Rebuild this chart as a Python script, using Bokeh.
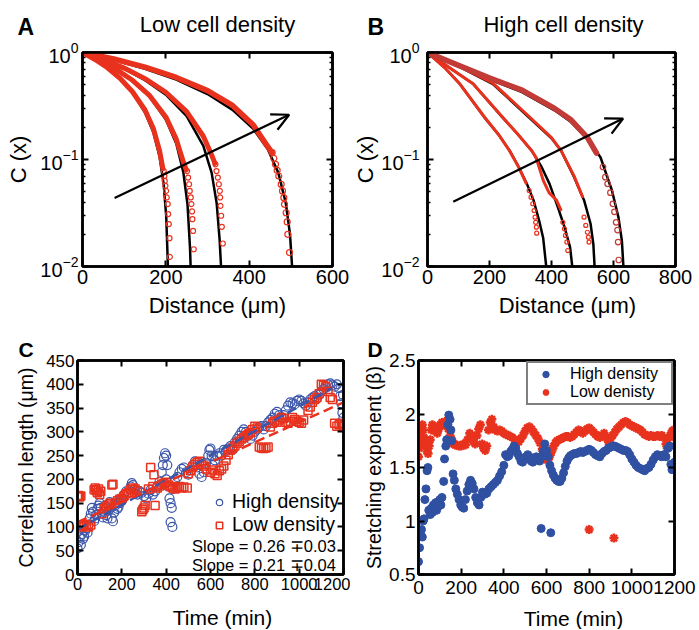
from bokeh.plotting import figure
from bokeh.models import (Range1d, FixedTicker, LogAxis, LinearAxis, LogTickFormatter,
                          NumeralTickFormatter, CustomJSTickFormatter, Label, Arrow, OpenHead,
                          Legend, LegendItem, Title)
from bokeh.layouts import column, row
from bokeh.embed import file_html
from bokeh.resources import INLINE

FONT = "Liberation Sans"
RED = "#e8321e"
DARKRED = "#c23b36"
BLUE_C = "#3b55a8"
BLUE_D = "#3050a2"

# ---------------- shared log-axis ticks (panels A, B) ----------------
log_ticks = [0.01, 0.1, 1]
log_minor = [0.02, 0.03, 0.04, 0.05, 0.06, 0.07, 0.08, 0.09,
             0.2, 0.3, 0.4, 0.5, 0.6, 0.7, 0.8, 0.9]

# ---------------- Panel A: low cell density ----------------
a_xticks = [0, 200, 400, 600]
a_fit_x = [
    [0, 30, 60, 90, 120, 150, 170, 185, 195, 201, 205],
    [0, 40, 80, 120, 160, 200, 225, 242, 252, 258, 259.5],
    [0, 50, 100, 150, 200, 250, 290, 310, 322, 329, 332.5],
    [0, 75, 150, 225, 300, 360, 410, 445, 470, 488, 498, 503],
]
a_fit_c = [
    [1, 0.855, 0.71, 0.565, 0.42, 0.275, 0.18, 0.106, 0.058, 0.029, 0.01],
    [1, 0.847, 0.695, 0.542, 0.389, 0.237, 0.141, 0.076, 0.038, 0.015, 0.01],
    [1, 0.851, 0.701, 0.552, 0.403, 0.254, 0.134, 0.075, 0.039, 0.018, 0.01],
    [1, 0.852, 0.705, 0.557, 0.409, 0.291, 0.193, 0.124, 0.075, 0.039, 0.02, 0.01],
]
a_band_x = [
    [0, 30, 60, 90, 120, 150, 170, 185, 193],
    [0, 40, 80, 120, 160, 200, 225, 242, 249],
    [0, 50, 100, 150, 200, 250, 290, 310, 318],
    [0, 75, 150, 225, 300, 360, 410, 440, 455],
]
a_band_c = [
    [1, 0.86, 0.72, 0.575, 0.43, 0.29, 0.195, 0.12, 0.082],
    [1, 0.85, 0.70, 0.55, 0.40, 0.25, 0.155, 0.095, 0.08],
    [1, 0.86, 0.715, 0.57, 0.425, 0.28, 0.165, 0.11, 0.092],
    [1, 0.87, 0.73, 0.585, 0.44, 0.32, 0.21, 0.14, 0.116],
]
a_tail_x = [
    [195, 196.6, 197.4, 199, 200.6, 202.2, 204.6, 205.6, 207.2, 208.8, 209.6],
    [251, 253.4, 255.8, 257.4, 259.8, 261.4, 263, 263.8, 265.4, 267],
    [319.2, 321.6, 324.8, 327.2, 329.6, 330.4, 331.2, 332.8, 334.4, 336.8],
    [455.2, 459.2, 463.2, 467.2, 471.1, 476.8, 480, 483.2, 484.8, 488.8, 491.2, 492.8, 496.8],
]
a_tail_c = [
    [0.078, 0.0703, 0.0631, 0.0568, 0.0509, 0.0442, 0.0383, 0.0309, 0.0249, 0.0184, 0.0123],
    [0.078, 0.0678, 0.0587, 0.0509, 0.0442, 0.0383, 0.0327, 0.0277, 0.0215, 0.0145],
    [0.0902, 0.078, 0.0678, 0.0587, 0.0509, 0.0442, 0.0369, 0.0298, 0.0235, 0.0164],
    [0.116, 0.1026, 0.0902, 0.0793, 0.0701, 0.0586, 0.0508, 0.044, 0.0381, 0.0318, 0.0261, 0.02, 0.0135],
]
a_arrow = [77, 0.0437, 496, 0.262]

# ---------------- Panel B: high cell density ----------------
b_xticks = [0, 200, 400, 600, 800]
b_fit_x = [
    [0, 55, 104, 183, 230, 265, 294, 321, 342, 360, 373, 383],
    [0, 70, 147, 241, 290, 336, 368, 394, 421, 442, 460, 467],
    [0, 100, 210, 326, 400, 431, 473, 505, 526, 535, 539],
    [0, 94, 199, 305, 410, 463, 516, 558, 595, 616, 627, 632],
]
b_fit_c = [
    [1, 0.724, 0.51, 0.249, 0.17, 0.121, 0.0851, 0.0589, 0.0417, 0.0269, 0.0186, 0.01],
    [1, 0.724, 0.51, 0.249, 0.174, 0.121, 0.0851, 0.0589, 0.0355, 0.0234, 0.0151, 0.01],
    [1, 0.741, 0.51, 0.249, 0.158, 0.121, 0.0684, 0.0417, 0.0251, 0.0162, 0.01],
    [1, 0.759, 0.562, 0.427, 0.288, 0.224, 0.155, 0.105, 0.0513, 0.0288, 0.0174, 0.01],
]
b_band_x = [
    [0, 55, 104, 183, 230, 265, 294, 318],
    [0, 70, 147, 241, 290, 336, 350, 374, 392, 416, 430],
    [0, 100, 210, 326, 400, 431, 473, 500],
    [0, 94, 199, 305, 410, 463, 516, 545],
]
b_band_c = [
    [1, 0.724, 0.51, 0.251, 0.17, 0.12, 0.085, 0.06],
    [1, 0.724, 0.51, 0.251, 0.174, 0.121, 0.105, 0.063, 0.049, 0.0417, 0.034],
    [1, 0.75, 0.52, 0.255, 0.16, 0.121, 0.07, 0.045],
    [1, 0.77, 0.58, 0.445, 0.30, 0.235, 0.16, 0.115],
]
b_tail_x = [
    [328, 334, 339.6, 343.8, 347, 349, 351.2, 352.2],
    [436.6, 441.8, 445, 449.4, 452.5],
    [505, 510.5, 515.8, 519, 521],
    [566, 573.7, 581, 590, 598, 603, 608.5, 613, 614.9, 617],
]
b_tail_c = [
    [0.0513, 0.0445, 0.0386, 0.0333, 0.0289, 0.0259, 0.0233, 0.0205],
    [0.0259, 0.0225, 0.0195, 0.0169, 0.0141],
    [0.0289, 0.0242, 0.0209, 0.0188, 0.0169],
    [0.0851, 0.0684, 0.0593, 0.049, 0.0385, 0.0324, 0.0259, 0.0219, 0.0169, 0.0115],
]
b_arrow = [83, 0.0402, 631, 0.2415]

# ---------------- Panel C: correlation length vs time ----------------
c_xticks = [0, 200, 400, 600, 800, 1000, 1200]
c_yticks = [0, 50, 100, 150, 200, 250, 300, 350, 400, 450]
hi_t = [0, 5, 10, 15, 20, 25, 30, 35, 40, 45, 50, 55, 60, 65, 70, 75, 80, 85, 90, 95, 100,
        105, 110, 115, 120, 125, 130, 135, 140, 145, 150, 155, 160, 165, 170, 175, 180, 185, 190, 195, 200,
        205, 210, 220, 230, 240, 245, 250, 255, 260, 270, 280, 290, 300, 310, 320, 330, 340, 350, 360,
        370, 380, 385, 390, 395, 400, 405, 400, 410, 415, 420, 425, 420, 428, 430, 440,
        450, 460, 470, 480, 490, 500, 510, 520, 530, 540, 550, 560, 570,
        580, 590, 595, 600, 605, 610, 620, 630, 640, 650, 660, 670, 680, 690, 700,
        710, 720, 730, 740, 750, 760, 770, 780, 790, 800, 810, 820, 830, 840, 850,
        860, 870, 880, 890, 900, 910, 920, 930, 940, 950, 960, 970, 980, 990, 1000,
        1010, 1020, 1030, 1040, 1050, 1060, 1070, 1080, 1090, 1100, 1110, 1120, 1130, 1140, 1150,
        1160, 1170, 1180, 1185, 1190, 1195, 1198, 1200]
hi_len = [55, 68, 78, 62, 85, 75, 80, 92, 97, 88, 105, 118, 128, 140, 132, 112, 118, 125, 138, 145, 150,
          140, 128, 120, 132, 145, 125, 118, 135, 152, 140, 118, 112, 130, 145, 150, 138, 142, 150, 158, 155,
          160, 168, 175, 172, 185, 192, 188, 178, 170, 168, 175, 172, 165, 160, 170, 178, 168, 175, 185,
          195, 215, 230, 245, 255, 250, 230, 200, 185, 160, 150, 140, 110, 100, 180, 195,
          205, 215, 222, 225, 215, 210, 220, 230, 238, 225, 212, 205, 215,
          235, 250, 262, 265, 250, 230, 240, 250, 255, 250, 262, 260, 265, 270, 262,
          278, 285, 292, 300, 305, 300, 292, 285, 292, 300, 305, 310, 312, 305, 312,
          320, 325, 330, 338, 342, 335, 330, 335, 345, 355, 362, 360, 358, 365, 368,
          365, 360, 355, 362, 368, 372, 375, 370, 378, 385, 390, 395, 400, 402, 398,
          395, 400, 392, 375, 360, 340, 378, 330]
lo_t = [0, 5, 10, 15, 20, 25, 30, 40, 50, 60,
        75, 80, 85, 90, 95, 100, 105,
        110, 120, 130, 140, 150, 155, 160, 170, 180, 190, 200, 210, 220, 230, 240, 250, 260, 270,
        290, 295, 300, 305,
        320, 330, 345, 340, 350, 360, 370, 380, 390, 400, 410, 420, 430, 440, 450, 460, 470, 480, 495,
        500, 510, 520, 530, 540, 550, 560, 570, 580, 600, 610, 620, 630, 640, 650, 660, 670, 680,
        690, 700, 710, 720, 730, 740, 750, 760, 770, 780, 790, 800, 810,
        820, 830, 840, 850, 860,
        870, 880, 890, 900, 910, 920, 930, 940, 950, 960, 970, 980, 990, 1000, 1010, 1020,
        1040, 1050, 1060, 1070, 1080, 1090, 1100, 1110, 1120, 1130, 1140, 1150,
        1160, 1170, 1180, 1190, 1200]
lo_len = [165, 166, 163, 165, 100, 104, 102, 105, 100, 104,
          178, 182, 176, 172, 180, 168, 175,
          128, 138, 142, 146, 150, 188, 190, 150, 155, 158, 160, 165, 170, 172, 178, 182, 180, 176,
          132, 136, 140, 145,
          180, 225, 210, 185, 145, 182, 186, 190, 192, 194, 188, 185, 182, 180, 183, 185, 182, 184, 182,
          212, 218, 226, 232, 236, 238, 232, 228, 222, 215, 220, 212, 208, 218, 222, 228, 240, 252,
          262, 266, 270, 276, 280, 285, 288, 292, 295, 298, 305, 312, 308,
          268, 266, 265, 266, 268,
          310, 318, 322, 320, 325, 330, 328, 320, 318, 322, 330, 326, 322, 320, 318, 325,
          345, 352, 362, 368, 372, 380, 400, 398, 395, 385, 372, 368,
          318, 312, 315, 318, 312]
fit_hi_t = [0, 1150]
fit_hi_len = [95, 392]
fit_lo_t = [0, 1200]
fit_lo_len = [110, 362]

# ---------------- Panel D: stretching exponent vs time ----------------
d_xticks = [0, 200, 400, 600, 800, 1000, 1200]
d_yticks = [0.5, 1, 1.5, 2, 2.5]
bh_t = [0, 5, 10, 14, 18, 22, 26, 30, 35, 40, 44, 48, 55, 60, 65, 70, 75, 80, 85, 90, 95, 100, 105, 110,
        118, 122, 128, 132, 138, 142, 148, 152, 156,
        162, 168, 175, 182, 190, 198, 205, 212, 220, 228, 236, 244, 252, 260, 268, 276, 284, 292, 300,
        310, 320, 330, 340, 350, 360, 370, 380, 390, 400, 408, 416, 424, 432, 440, 448, 456, 464, 472,
        480, 488, 496, 504, 512, 520, 528, 536, 544, 552, 560, 568, 576, 584, 592, 600, 608, 616, 624,
        632, 640, 648, 656, 664, 672, 680, 688, 696, 704, 712, 720, 730, 740, 750, 760, 770, 780, 790,
        800, 810, 820, 830, 840, 850, 860, 870, 880, 890, 900, 910, 920, 930, 940, 950, 960, 970, 980,
        990, 1000, 1010, 1020, 1030, 1040, 1050, 1060, 1070, 1080, 1090, 1100, 1110, 1120, 1130, 1140,
        1150, 1160, 1170, 1178, 1183, 1188, 1193, 1200, 575, 620]
bh_beta = [0.62, 0.75, 0.87, 0.92, 0.85, 1.0, 1.02, 1.2, 1.3, 1.47, 1.5, 1.1, 1.06, 1.12, 1.08, 1.15, 1.12,
           1.17, 1.1, 1.18, 1.14, 1.2, 1.15, 1.22,
           1.37, 1.58, 1.7, 1.76, 1.9, 1.99, 1.95, 1.85, 1.75,
           1.44, 1.38, 1.3, 1.25, 1.2, 1.15, 1.13, 1.12, 1.2, 1.28, 1.34, 1.38, 1.35, 1.3, 1.22, 1.17, 1.15,
           1.22, 1.27,
           1.25, 1.26, 1.3, 1.32, 1.34, 1.36, 1.38, 1.42, 1.46, 1.52, 1.62, 1.6, 1.61, 1.65, 1.67, 1.7, 1.68,
           1.63, 1.6,
           1.56, 1.55, 1.58, 1.6, 1.62, 1.6, 1.56, 1.55, 1.58, 1.6, 1.57, 1.56, 1.6, 1.65, 1.72, 1.66, 1.6,
           1.52, 1.47,
           1.43, 1.4, 1.38, 1.37, 1.37, 1.4, 1.45, 1.51, 1.56, 1.59, 1.61, 1.62, 1.63, 1.63, 1.64, 1.65, 1.64,
           1.65, 1.66,
           1.67, 1.66, 1.64, 1.62, 1.61, 1.6, 1.63, 1.65, 1.66, 1.68, 1.69, 1.7, 1.7, 1.69, 1.68, 1.67, 1.66,
           1.66, 1.65,
           1.62, 1.58, 1.55, 1.52, 1.5, 1.49, 1.48, 1.47, 1.49, 1.5, 1.53, 1.57, 1.6, 1.62, 1.61, 1.6,
           1.62, 1.6, 1.68, 1.7, 1.53, 1.48, 1.5, 1.55, 0.93, 0.89]
bl_t = [0, 3, 6, 10, 14, 18, 22, 26, 30, 35, 40, 45, 50, 55, 60, 65, 72, 80, 88, 95, 102, 110, 118, 125,
        132, 140, 148, 156, 164, 172, 180, 190, 200, 210, 220, 230, 240, 250, 258, 266, 274, 282, 290,
        298, 305, 313, 320, 328, 336, 344, 352, 360, 370, 380, 390, 400, 410, 420, 430, 440, 450, 460,
        470, 480, 490, 500, 510, 520, 530, 540, 550, 560, 570, 580, 590, 600, 610, 618, 626, 634, 642,
        650, 660, 670, 680, 690, 700, 710, 720, 730, 740, 750, 760, 770, 780, 790, 800, 810, 820, 830,
        840, 850, 860, 870, 880, 890, 900, 910, 920, 930, 940, 950, 960, 970, 980, 990, 1000, 1010,
        1020, 1030, 1040, 1050, 1060, 1070, 1080, 1090, 1100, 1110, 1120, 1130, 1140, 1150, 1160, 1166,
        1172, 1178, 1184, 1190, 1196, 1200, 800, 916]
bl_beta = [1.6, 1.68, 1.75, 1.8, 1.86, 1.9, 1.85, 1.78, 1.72, 1.7, 1.65, 1.63, 1.7, 1.76, 1.85, 1.9, 1.88,
           1.84, 1.82, 1.86, 1.9, 1.92, 1.9, 1.93,
           1.9, 1.86, 1.8, 1.76, 1.72, 1.71, 1.71, 1.7, 1.7, 1.72, 1.71, 1.76, 1.82, 1.8, 1.74, 1.72, 1.8,
           1.86, 1.9,
           1.72, 1.68, 1.66, 1.7, 1.85, 1.92, 1.95, 1.88, 1.85, 1.84, 1.85, 1.84, 1.82, 1.81, 1.8, 1.79,
           1.78, 1.76, 1.74,
           1.74, 1.77, 1.8, 1.84, 1.87, 1.88, 1.86, 1.83, 1.8, 1.77, 1.73, 1.67, 1.62, 1.57, 1.58, 1.62,
           1.66, 1.7, 1.73,
           1.75, 1.76, 1.77, 1.78, 1.79, 1.79, 1.78, 1.79, 1.81, 1.83, 1.85, 1.84, 1.82, 1.84, 1.86, 1.87,
           1.85, 1.83, 1.81,
           1.79, 1.78, 1.8, 1.82, 1.78, 1.74, 1.77, 1.8, 1.83, 1.86, 1.88, 1.9, 1.92, 1.93, 1.92, 1.9,
           1.89, 1.88,
           1.87, 1.86, 1.85, 1.83, 1.81, 1.8, 1.79, 1.8, 1.79, 1.79, 1.8, 1.79, 1.8, 1.78, 1.72, 1.68,
           1.7, 1.78, 1.82, 1.84, 1.85, 1.82, 0.92, 0.84]

BLANK = "return ''"
PAGE_W = 699


def style_axes(p, minor_log=False):
    for ax in p.axis:
        ax.axis_line_width = 2.5
        ax.axis_line_color = "black"
        ax.major_tick_in = 6
        ax.major_tick_out = 0
        ax.major_tick_line_width = 2
        ax.major_tick_line_color = "black"
        ax.minor_tick_out = 0
        ax.minor_tick_in = 3
        ax.minor_tick_line_width = 1.5
        ax.major_label_text_font = FONT
        ax.major_label_text_color = "black"
        ax.axis_label_text_font = FONT
        ax.axis_label_text_font_style = "normal"
        ax.axis_label_text_color = "black"
    for ax in p.xaxis:
        ax.minor_tick_line_color = None
    if not minor_log:
        for ax in p.yaxis:
            ax.minor_tick_line_color = None


def add_mirror_axes(p, xticks, yticks, log=False, yminor=None):
    top = LinearAxis(ticker=FixedTicker(ticks=xticks), formatter=CustomJSTickFormatter(code=BLANK))
    if log:
        right = LogAxis(ticker=FixedTicker(ticks=yticks, minor_ticks=yminor),
                        formatter=CustomJSTickFormatter(code=BLANK))
    else:
        right = LinearAxis(ticker=FixedTicker(ticks=yticks), formatter=CustomJSTickFormatter(code=BLANK))
    for ax in (top, right):
        ax.major_label_text_font_size = "2px"
        ax.major_label_standoff = 0
    p.add_layout(top, "above")
    p.add_layout(right, "right")


def base_fig(w, h, xr, yr, borders, log=False):
    kw = dict(width=w, height=h, x_range=xr, y_range=yr, output_backend="svg",
              toolbar_location=None, min_border_left=borders[0], min_border_right=borders[1],
              min_border_top=borders[2], min_border_bottom=borders[3])
    if log:
        kw["y_axis_type"] = "log"
    p = figure(**kw)
    p.grid.visible = False
    p.outline_line_color = "black"
    p.outline_line_width = 2.5
    p.background_fill_color = "white"
    p.border_fill_color = "white"
    return p


def text_strip(h, texts):
    """A full-width strip whose frame is the whole canvas (x, y in page pixels within the strip)."""
    s = figure(width=PAGE_W, height=h, x_range=Range1d(0, PAGE_W), y_range=Range1d(h, 0),
               output_backend="svg", toolbar_location=None, min_border=0,
               x_axis_location=None, y_axis_location=None)
    s.grid.visible = False
    s.outline_line_color = None
    s.background_fill_color = "white"
    s.border_fill_color = "white"
    for (x, y, txt, size, bold, align) in texts:
        s.add_layout(Label(x=x, y=y, text=txt, text_font=FONT, text_font_size=size,
                           text_font_style="bold" if bold else "normal", text_align=align,
                           text_baseline="middle", text_color="black"))
    return s


def panel_letter(p, letter, offset):
    p.add_layout(Title(text=letter, align="left", offset=offset, standoff=0, text_font=FONT,
                       text_font_size="21px", text_font_style="bold", text_color="black",
                       vertical_align="bottom"), "above")


def curve_panel(w, borders, xmax, xticks, fit_x, fit_c, band_x, band_c, band_colors, band_widths,
                tail_x, tail_c, tail_sizes, arrow, ylabel_standoff, ytick_standoff):
    p = base_fig(w, 252, Range1d(0, xmax), Range1d(0.01, 1), borders, log=True)
    p.xaxis.ticker = FixedTicker(ticks=xticks)
    p.yaxis.ticker = FixedTicker(ticks=log_ticks, minor_ticks=log_minor)
    p.yaxis.formatter = LogTickFormatter()
    p.yaxis.axis_label = "C (x)"
    p.yaxis.axis_label_text_font_size = "22px"
    p.yaxis.axis_label_standoff = ylabel_standoff
    p.yaxis.major_label_standoff = ytick_standoff
    p.xaxis.major_label_standoff = 3
    p.xaxis.major_label_text_font_size = "20px"
    p.yaxis.major_label_text_font_size = "20px"
    add_mirror_axes(p, xticks, log_ticks, log=True, yminor=log_minor)
    style_axes(p, minor_log=True)
    for x, c in zip(fit_x, fit_c):
        p.line(x, c, line_color="black", line_width=2.5)
    for x, c, col, lw in zip(band_x, band_c, band_colors, band_widths):
        p.line(x, c, line_color=col, line_width=lw, line_cap="round", line_join="round")
    for x, c, col, s in zip(tail_x, tail_c, band_colors, tail_sizes):
        p.scatter(x, c, marker="circle", size=s, fill_color=None, line_color=col, line_width=1.2)
    p.add_layout(Arrow(end=OpenHead(size=17, line_width=2.2, line_color="black"),
                       x_start=arrow[0], y_start=arrow[1], x_end=arrow[2], y_end=arrow[3],
                       line_width=2.2, line_color="black"))
    return p


# page layout (Bokeh's page template has no body margin):
# header 0-40 | top row 40-292 | middle strip 292-330 | bottom row 330-607 | footer 607-629
header = text_strip(40, [
    (17, 26, "A", "23px", True, "left"),
    (217, 24, "Low cell density", "22px", False, "center"),
    (367, 26, "B", "23px", True, "left"),
    (563, 24, "High cell density", "22px", False, "center"),
])

pA = curve_panel(350, (82, 18, 12, 26), 600, a_xticks, a_fit_x, a_fit_c, a_band_x, a_band_c,
                 [RED, RED, RED, RED], [5, 5, 5, 5.5], a_tail_x, a_tail_c, [5, 5, 5, 6],
                 a_arrow, 6, 4)
pB = curve_panel(349, (72, 24, 12, 26), 800, b_xticks, b_fit_x, b_fit_c, b_band_x, b_band_c,
                 [RED, RED, RED, DARKRED], [3, 3, 3, 5.5], b_tail_x, b_tail_c, [4, 4, 4, 5.5],
                 b_arrow, 0, 8)

middle = text_strip(38, [
    (217, 13, "Distance (μm)", "22px", False, "center"),
    (567, 13, "Distance (μm)", "22px", False, "center"),
])

# ---------------- Panel C ----------------
pC = base_fig(350, 277, Range1d(0, 1200), Range1d(0, 450), (77, 7, 26, 33))
pC.xaxis.ticker = FixedTicker(ticks=c_xticks)
pC.yaxis.ticker = FixedTicker(ticks=c_yticks)
pC.yaxis.axis_label = "Correlation length (μm)"
pC.yaxis.axis_label_text_font_size = "19.5px"
pC.yaxis.axis_label_standoff = 6
pC.yaxis.major_label_standoff = 3
pC.xaxis.major_label_standoff = 3
pC.xaxis.major_label_text_font_size = "16.5px"
pC.yaxis.major_label_text_font_size = "17px"
add_mirror_axes(pC, c_xticks, c_yticks)
style_axes(pC)
panel_letter(pC, "C", -59)
r_hi = pC.scatter(hi_t, hi_len, marker="circle", size=9, fill_color=None, line_color=BLUE_C, line_width=1.2)
r_lo = pC.scatter(lo_t, lo_len, marker="square", size=8, fill_color=None, line_color=RED, line_width=1.5)
pC.line(fit_hi_t, fit_hi_len, line_color=BLUE_C, line_width=2.5, line_dash="10 5")
pC.line(fit_lo_t, fit_lo_len, line_color=RED, line_width=2.5, line_dash="10 5")
leg_hi_line = pC.line([], [], line_color=BLUE_C, line_width=2.5)
leg_lo_line = pC.line([], [], line_color=RED, line_width=2.5)
legC1 = Legend(items=[LegendItem(label="High density", renderers=[r_hi]),
                      LegendItem(label="Low density", renderers=[r_lo])],
               location=(134, 38), padding=0, margin=0, spacing=0, glyph_width=16, glyph_height=18,
               label_height=18, label_standoff=5, label_text_font=FONT, label_text_font_size="19.5px",
               label_text_color="black", border_line_color=None, background_fill_alpha=0)
legC2 = Legend(items=[LegendItem(label="Slope = 0.26 ∓0.03", renderers=[leg_hi_line]),
                      LegendItem(label="Slope = 0.21 ∓0.04", renderers=[leg_lo_line])],
               location=(89, -1), padding=0, margin=0, spacing=0, glyph_width=22, glyph_height=19,
               label_height=19, label_standoff=4, label_text_font=FONT, label_text_font_size="16.5px",
               label_text_color="black", border_line_color=None, background_fill_alpha=0)
pC.add_layout(legC1)
pC.add_layout(legC2)

# ---------------- Panel D ----------------
pD = base_fig(349, 277, Range1d(0, 1200), Range1d(0.5, 2.5), (68, 25, 30, 29))
pD.xaxis.ticker = FixedTicker(ticks=d_xticks)
pD.yaxis.ticker = FixedTicker(ticks=d_yticks)
pD.yaxis.formatter = NumeralTickFormatter(format="0.[0]")
pD.yaxis.axis_label = "Stretching exponent (β)"
pD.yaxis.axis_label_text_font_size = "19.5px"
pD.yaxis.axis_label_standoff = 1
pD.yaxis.major_label_standoff = 3
pD.xaxis.major_label_standoff = 6
pD.xaxis.major_label_text_font_size = "19px"
pD.yaxis.major_label_text_font_size = "19px"
add_mirror_axes(pD, d_xticks, d_yticks)
style_axes(pD)
panel_letter(pD, "D", -51)
r_bl = pD.scatter(bl_t, bl_beta, marker="asterisk", size=9, line_color=RED, line_width=2.5)
r_bh = pD.scatter(bh_t, bh_beta, marker="circle", size=8, fill_color=BLUE_D, line_color=BLUE_D)
legD = Legend(items=[LegendItem(label="High density", renderers=[r_bh]),
                     LegendItem(label="Low denisty", renderers=[r_bl])],
              location="top_right", padding=2, margin=1, spacing=0, glyph_width=31, glyph_height=16,
              label_height=16, label_width=99, label_standoff=9, label_text_font=FONT,
              label_text_font_size="16px", label_text_color="black",
              border_line_color="black", border_line_width=2,
              background_fill_color="white", background_fill_alpha=1)
pD.add_layout(legD)

footer = text_strip(22, [
    (222, 10, "Time (min)", "21px", False, "center"),
    (573, 10.5, "Time (min)", "21px", False, "center"),
])

layout = column(header, row(pA, pB), middle, row(pC, pD), footer)
open("out.html", "w").write(file_html(layout, INLINE))
